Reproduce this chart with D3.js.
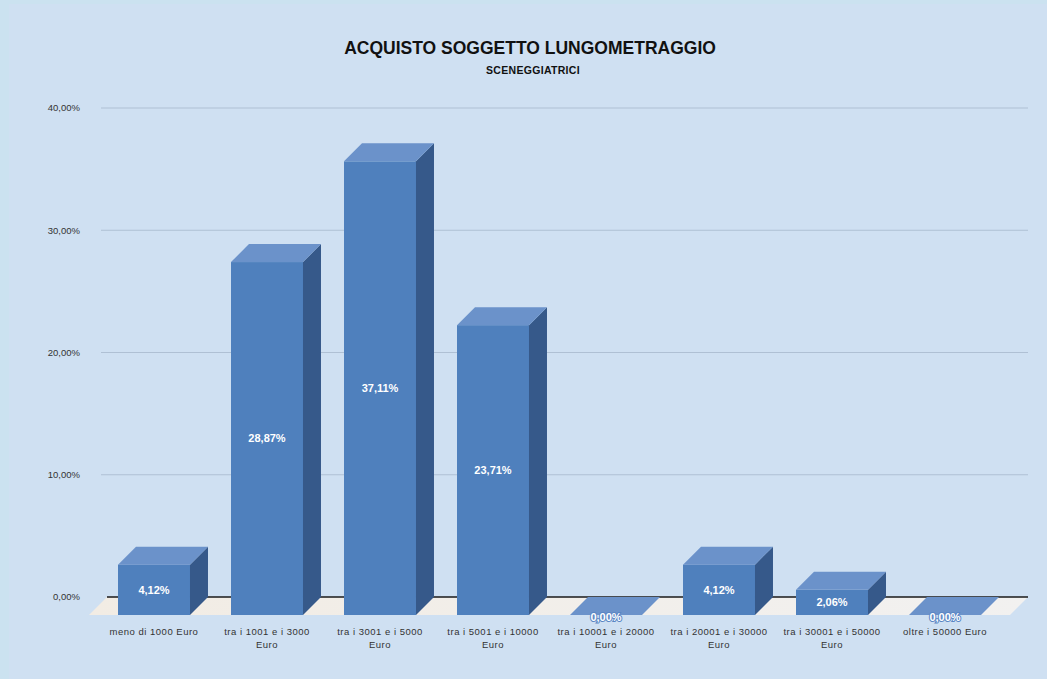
<!DOCTYPE html>
<html>
<head>
<meta charset="utf-8">
<script src="https://cdn.jsdelivr.net/npm/d3@7"></script>
<style>
  html, body { margin: 0; padding: 0; background: #cbe2f0; }
  svg { display: block; font-family: "Liberation Sans", Arial, sans-serif; }
</style>
</head>
<body>
<svg id="chart" width="1047" height="679"></svg>
<script>
// Price bands for the purchase of a feature-film subject
const categories = [
  ["meno di 1000 Euro"],
  ["tra i 1001  e i 3000", "Euro"],
  ["tra i 3001 e i 5000", "Euro"],
  ["tra i 5001 e i 10000", "Euro"],
  ["tra i 10001 e i 20000", "Euro"],
  ["tra i 20001 e i 30000", "Euro"],
  ["tra i 30001 e i 50000", "Euro"],
  ["oltre i 50000 Euro"]
];
const values = [4.12, 28.87, 37.11, 23.71, 0.00, 4.12, 2.06, 0.00];
const yTicks = [0, 10, 20, 30, 40];
const titleText = "ACQUISTO SOGGETTO LUNGOMETRAGGIO";
const subtitleText = "SCENEGGIATRICI";

const svg = d3.select("#chart");
const W = 1047, H = 679;

// panel
svg.append("rect").attr("x", 9).attr("y", 4).attr("width", W - 9).attr("height", H - 4)
  .attr("fill", "#cfe0f2");

// 3D geometry: back wall baseline and depth offset
const backBase = 597;
const depth = 18;
const frontBase = backBase + depth;

const keys = categories.map((c, i) => i);
const x = d3.scaleBand().domain(keys).range([97.5, 1001.5])
  .paddingInner(0.363).paddingOuter(0.1815);
const y = d3.scaleLinear().domain([0, 40]).range([0, 489]);

// floor
const floorL = 89, floorR = 1010;
const floorGrad = svg.append("defs").append("linearGradient")
  .attr("id", "floorGrad").attr("x1", 0).attr("x2", 1).attr("y1", 0).attr("y2", 0);
floorGrad.append("stop").attr("offset", 0).attr("stop-color", "#f2ece4");
floorGrad.append("stop").attr("offset", 1).attr("stop-color", "#f2f1f0");
svg.append("path")
  .attr("d", `M${floorL + depth},${backBase} L${floorR + depth},${backBase} L${floorR},${frontBase} L${floorL},${frontBase} Z`)
  .attr("fill", "url(#floorGrad)");

// gridlines on the back wall
svg.append("g").selectAll("line").data(yTicks.filter(t => t > 0)).join("line")
  .attr("x1", 101).attr("x2", 1028)
  .attr("y1", d => backBase - y(d)).attr("y2", d => backBase - y(d))
  .attr("stroke", "#afc0d4").attr("stroke-width", 1);

// base line
svg.append("line").attr("x1", 107).attr("x2", 1028)
  .attr("y1", backBase).attr("y2", backBase)
  .attr("stroke", "#1a1a1a").attr("stroke-width", 1.3);

// y tick labels
svg.append("g").selectAll("text").data(yTicks).join("text")
  .attr("x", 80).attr("y", d => backBase - y(d))
  .attr("dy", "0.35em").attr("text-anchor", "end")
  .attr("font-size", 9.5).attr("fill", "#333")
  .text(d => d3.format(".2f")(d).replace(".", ",") + "%");

// bars
const fmt = v => d3.format(".2f")(v).replace(".", ",") + "%";
const bars = svg.append("g").selectAll("g").data(values).join("g");

bars.each(function (v, i) {
  const g = d3.select(this);
  const x0 = x(i), bw = x.bandwidth();
  const h = y(v);
  const top = frontBase - h;
  if (h > 0) {
    // front face
    g.append("rect").attr("x", x0).attr("y", top).attr("width", bw).attr("height", h)
      .attr("fill", "#4f80bd");
    // side face
    g.append("path")
      .attr("d", `M${x0 + bw},${top} L${x0 + bw + depth},${top - depth} L${x0 + bw + depth},${frontBase - depth} L${x0 + bw},${frontBase} Z`)
      .attr("fill", "#36598a");
  }
  // top face
  g.append("path")
    .attr("d", `M${x0},${top} L${x0 + depth},${top - depth} L${x0 + bw + depth},${top - depth} L${x0 + bw},${top} Z`)
    .attr("fill", "#6b92ca");
  // value label
  const lbl = g.append("text")
    .attr("x", x0 + bw / 2).attr("y", top + h / 2 + (h > 0 ? 0 : 2))
    .attr("dy", "0.35em").attr("text-anchor", "middle")
    .attr("font-size", 11).attr("font-weight", "bold")
    .attr("fill", "#ffffff")
    .text(fmt(v));
  if (h === 0) {
    lbl.attr("stroke", "#5a86c4").attr("stroke-width", 2).attr("paint-order", "stroke");
  }
});

// category labels
const catG = svg.append("g").selectAll("text").data(categories).join("text")
  .attr("text-anchor", "middle")
  .attr("font-size", 9.5).attr("fill", "#333")
  .attr("letter-spacing", 0.5);
catG.each(function (lines, i) {
  const t = d3.select(this);
  lines.forEach((ln, j) => {
    t.append("tspan").attr("x", x(i) + x.bandwidth() / 2)
      .attr("y", 635 + j * 13).text(ln);
  });
});

// titles
svg.append("text").attr("x", 530).attr("y", 54).attr("text-anchor", "middle")
  .attr("font-size", 17.5).attr("font-weight", "bold").attr("fill", "#111")
  .text(titleText);
svg.append("text").attr("x", 533).attr("y", 74).attr("text-anchor", "middle")
  .attr("font-size", 10.5).attr("font-weight", "bold").attr("fill", "#111")
  .attr("letter-spacing", 0.3)
  .text(subtitleText);
</script>
</body>
</html>
